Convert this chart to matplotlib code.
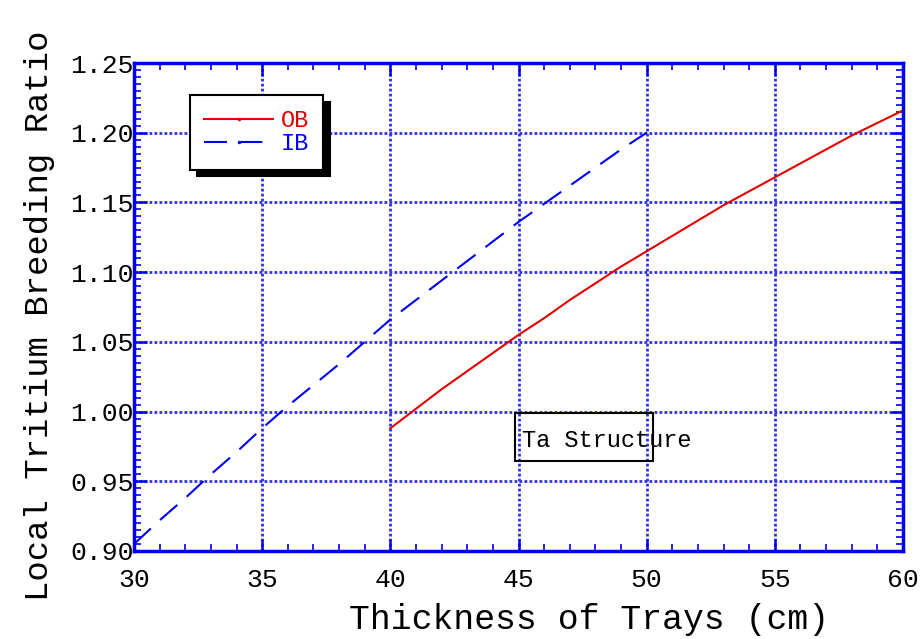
import matplotlib
matplotlib.use("Agg")
import matplotlib.pyplot as plt
from matplotlib.lines import Line2D
from matplotlib.patches import Rectangle
from matplotlib.ticker import MultipleLocator, FormatStrFormatter

plt.rcParams['font.family'] = ['Liberation Mono', 'DejaVu Sans Mono']

# thickness of trays (cm) and local TBR
ib_x = [30, 31, 32, 33, 34, 35, 36, 37, 38, 39, 40,
        41, 42, 43, 44, 45, 46, 47, 48, 49, 50]
ib_y = [0.905, 0.922, 0.938, 0.955, 0.971, 0.988, 1.004, 1.019, 1.034, 1.050, 1.066,
        1.080, 1.094, 1.108, 1.122, 1.136, 1.149, 1.162, 1.175, 1.188, 1.200]
ob_x = [40, 41, 42, 43, 44, 45, 46, 47, 48, 49, 50,
        51, 52, 53, 54, 55, 56, 57, 58, 59, 60]
ob_y = [0.988, 1.002, 1.016, 1.029, 1.042, 1.055, 1.067, 1.080, 1.092, 1.104, 1.115,
        1.126, 1.137, 1.148, 1.158, 1.168, 1.178, 1.188, 1.198, 1.207, 1.216]

blue = '#0000ee'
red = '#e00000'
grid_blue = '#3030e0'

fig = plt.figure(figsize=(9.24, 6.39), dpi=100)
ax = fig.add_axes([134/924, 88/639, 769/924, 488/639])

ax.plot(ob_x, ob_y, color=red, lw=1.5)
ax.plot(ib_x, ib_y, color=blue, lw=1.5, dashes=(11, 6))

ax.set_xlim(30, 60)
ax.set_ylim(0.90, 1.25)
ax.xaxis.set_major_locator(MultipleLocator(5))
ax.xaxis.set_minor_locator(MultipleLocator(1))
ax.yaxis.set_major_locator(MultipleLocator(0.05))
ax.yaxis.set_minor_locator(MultipleLocator(0.005))
ax.yaxis.set_major_formatter(FormatStrFormatter('%.2f'))

ax.grid(True, which='major', color=grid_blue, linestyle=(0, (1, 0.8)), linewidth=2)
for s in ax.spines.values():
    s.set_color(blue)
    s.set_linewidth(2.5)
ax.tick_params(which='both', direction='in', top=True, right=True, color=blue)
ax.tick_params(which='major', length=9, width=1.8, labelsize=19)
ax.tick_params(which='minor', length=5, width=1.2)
ax.tick_params(axis='x', which='major', pad=12)
ax.tick_params(axis='y', which='major', pad=0)

handles = [Line2D([], [], color=red, lw=1.5, marker='.', ms=3),
           Line2D([], [], color=blue, lw=1.5, dashes=(11, 6), marker='.', ms=3)]
leg = ax.legend(handles, ['OB', 'IB'], loc='upper left',
                bbox_to_anchor=(0.073, 0.934), borderaxespad=0,
                fontsize=17, handlelength=2.9, handletextpad=0.35,
                fancybox=False, framealpha=1, edgecolor='black',
                labelcolor=[red, blue], borderpad=0.6, labelspacing=0.0,
                shadow={'ox': 5, 'oy': -5, 'color': 'black', 'alpha': 1})
leg.get_frame().set_linewidth(1.5)

ax.add_patch(Rectangle((44.86, 0.9646), 5.39, 0.0344, fill=False,
                       edgecolor='black', lw=1.5, zorder=5))
ax.text(45.14, 0.9796, 'Ta Structure', fontsize=17, va='center', ha='left', zorder=6)

fig.text(589/924, 19/639, 'Thickness of Trays (cm)', fontsize=25,
         ha='center', va='center')
fig.text(40/924, 38/639, 'Local Tritium Breeding Ratio', fontsize=24.5,
         rotation=90, ha='center', va='bottom')

fig.savefig('out.png', dpi=100)
